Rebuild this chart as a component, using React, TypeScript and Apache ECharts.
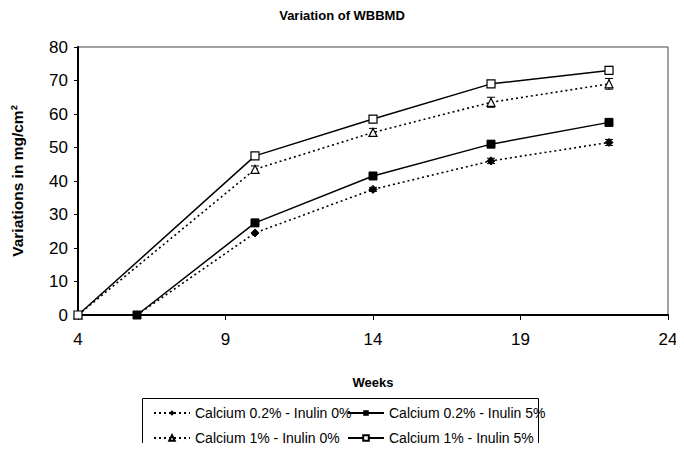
import React, { useEffect, useRef } from "react";
import * as echarts from "echarts";

const ca02In0: [number, number][] = [[6, 0], [10, 24.5], [14, 37.5], [18, 46], [22, 51.5]];
const ca02In5: [number, number][] = [[6, 0], [10, 27.5], [14, 41.5], [18, 51], [22, 57.5]];
const ca1In0: [number, number][] = [[4, 0], [10, 43.5], [14, 54.5], [18, 63.5], [22, 69]];
const ca1In5: [number, number][] = [[4, 0], [10, 47.5], [14, 58.5], [18, 69], [22, 73]];
// error bars: [week, value, error]
const errors: [number, number, number][] = [
  [10, 43.5, 1], [14, 54.5, 1.2], [18, 63.5, 1.5], [22, 69, 1.6],
  [10, 47.5, 0.8], [14, 58.5, 0.6], [18, 69, 0.8], [22, 73, 1.2],
  [10, 27.5, 0.6], [14, 41.5, 0.6], [18, 51, 0.7], [22, 57.5, 1],
  [14, 37.5, 0.6], [18, 46, 0.8], [22, 51.5, 0.9],
];
const names = [
  "Calcium 0.2% - Inulin 0%",
  "Calcium 0.2% - Inulin 5%",
  "Calcium 1% - Inulin 0%",
  "Calcium 1% - Inulin 5%",
];
const yTicks = [0, 10, 20, 30, 40, 50, 60, 70, 80];
const xTicks = [4, 9, 14, 19, 24];

export default function App() {
  const ref = useRef<HTMLDivElement>(null);
  useEffect(() => {
    if (!ref.current) return;
    const chart = echarts.init(ref.current, null, { renderer: "svg" });
    const font = "Liberation Sans, Arial, sans-serif";
    const legendText = { fontFamily: font, fontSize: 14, color: "#000" };
    chart.setOption({
      animation: false,
      backgroundColor: "#fff",
      title: {
        text: "Variation of WBBMD",
        left: "center",
        top: 4,
        textStyle: { fontFamily: font, fontSize: 13, fontWeight: "bold", color: "#000" },
      },
      grid: {
        left: 78, right: 16, top: 47, bottom: 136,
        show: true, borderColor: "#444", borderWidth: 1,
      },
      xAxis: {
        type: "value",
        min: xTicks[0],
        max: xTicks[xTicks.length - 1],
        interval: 5,
        name: "Weeks",
        nameLocation: "middle",
        nameGap: 61,
        nameTextStyle: { fontFamily: font, fontSize: 13, fontWeight: "bold", color: "#000" },
        axisLine: { lineStyle: { color: "#000", width: 2 } },
        axisTick: { show: true, length: 5, lineStyle: { color: "#000" } },
        axisLabel: { fontFamily: font, fontSize: 17, color: "#000", margin: 16 },
        splitLine: { show: false },
      },
      yAxis: {
        type: "value",
        min: yTicks[0],
        max: yTicks[yTicks.length - 1],
        interval: 10,
        name: "Variations in mg/cm²",
        nameLocation: "middle",
        nameGap: 53,
        nameTextStyle: { fontFamily: font, fontSize: 15.5, fontWeight: "bold", color: "#000" },
        axisLine: { show: true, lineStyle: { color: "#000", width: 2 } },
        axisTick: { show: true, length: 4, lineStyle: { color: "#000" } },
        axisLabel: { fontFamily: font, fontSize: 17, color: "#000", margin: 10 },
        splitLine: { show: false },
      },
      legend: [
        {
          orient: "vertical",
          left: 148,
          top: 401,
          itemGap: 11,
          itemWidth: 36,
          itemHeight: 7,
          data: [names[0], names[2]],
          textStyle: legendText,
        },
        {
          orient: "vertical",
          left: 342,
          top: 401,
          itemGap: 11,
          itemWidth: 36,
          itemHeight: 7,
          data: [names[1], names[3]],
          textStyle: legendText,
        },
      ],
      graphic: [
        {
          type: "rect",
          shape: { x: 142.5, y: 398.5, width: 396, height: 60 },
          style: { fill: "none", stroke: "#000", lineWidth: 1 },
        },
      ],
      series: [
        {
          name: names[0],
          type: "line",
          data: ca02In0,
          symbol: "diamond",
          symbolSize: 8,
          lineStyle: { color: "#000", width: 1.6, type: [2, 3] },
          itemStyle: { color: "#000", borderColor: "#000" },
        },
        {
          name: names[1],
          type: "line",
          data: ca02In5,
          symbol: "rect",
          symbolSize: 8,
          lineStyle: { color: "#000", width: 1.5, type: "solid" },
          itemStyle: { color: "#000", borderColor: "#000" },
        },
        {
          name: names[2],
          type: "line",
          data: ca1In0,
          symbol: "triangle",
          symbolSize: 8,
          lineStyle: { color: "#000", width: 1.6, type: [2, 3] },
          itemStyle: { color: "#fff", borderColor: "#000", borderWidth: 1.2 },
        },
        {
          name: names[3],
          type: "line",
          data: ca1In5,
          symbol: "rect",
          symbolSize: 8,
          lineStyle: { color: "#000", width: 1.5, type: "solid" },
          itemStyle: { color: "#fff", borderColor: "#000", borderWidth: 1.2 },
        },
        {
          type: "custom",
          silent: true,
          z: 1,
          data: errors,
          renderItem: (params: any, api: any) => {
            const x = api.value(0);
            const v = api.value(1);
            const e = api.value(2);
            const top = api.coord([x, v + e]);
            const bot = api.coord([x, v - e]);
            const w = 4;
            const style = { stroke: "#000", lineWidth: 1 };
            return {
              type: "group",
              children: [
                { type: "line", shape: { x1: top[0], y1: top[1], x2: bot[0], y2: bot[1] }, style },
                { type: "line", shape: { x1: top[0] - w, y1: top[1], x2: top[0] + w, y2: top[1] }, style },
                { type: "line", shape: { x1: bot[0] - w, y1: bot[1], x2: bot[0] + w, y2: bot[1] }, style },
              ],
            };
          },
        },
      ],
    });
    return () => chart.dispose();
  }, []);
  return <div ref={ref} style={{ width: 684, height: 451, margin: -8 }} />;
}
